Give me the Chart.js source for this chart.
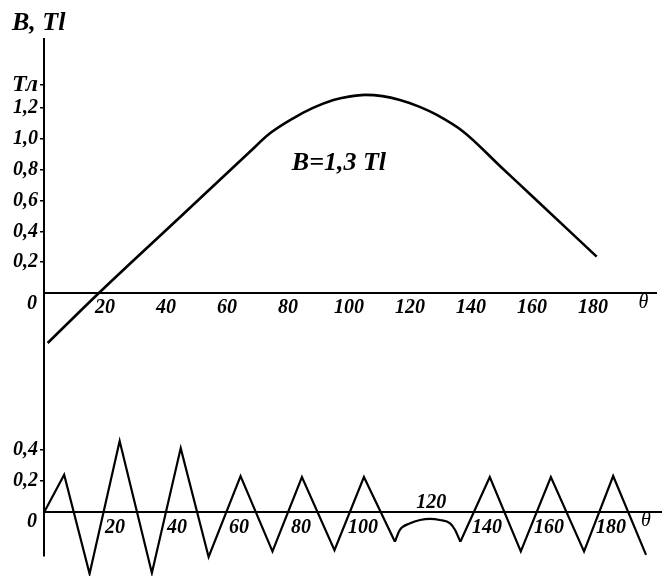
<!DOCTYPE html>
<html>
<head>
<meta charset="utf-8">
<script src="https://cdn.jsdelivr.net/npm/chart.js@4.4.1/dist/chart.umd.min.js"></script>
<style>
html,body{margin:0;padding:0;background:#fff;}
#wrap{position:relative;width:662px;height:576px;overflow:hidden;background:#fff;}
#c1{position:absolute;left:0;top:0;}
#c2{position:absolute;left:0;top:420px;}
</style>
</head>
<body>
<div id="wrap">
<canvas id="c1" width="662" height="420"></canvas>
<canvas id="c2" width="662" height="156"></canvas>
</div>
<script>
// ---------- data ----------
// upper curve: B(θ), Tl
const upperTheta = [1.2, 18, 45, 67.5, 74, 81.7, 88, 94.9, 100, 105.2, 111, 116.7, 123, 128.8, 137.5, 150, 160, 181.2];
const upperB     = [-0.325, 0, 0.50, 0.917, 1.035, 1.134, 1.20, 1.253, 1.275, 1.286, 1.278, 1.253, 1.21, 1.156, 1.047, 0.815, 0.63, 0.236];

// lower curve: ripple, Tl
const lowerTheta = [-2.9, 3.6, 11.8, 21.5, 31.9, 41.2, 50.2, 60.5, 70.8, 80.3, 90.8, 100.3, 110.3, 120, 131.4, 140.9, 150.9, 160.6, 171.3, 180.7, 191.3];
const lowerB     = [0, 0.24, -0.39, 0.455, -0.385, 0.41, -0.283, 0.232, -0.248, 0.226, -0.24, 0.226, -0.186, null, -0.186, 0.226, -0.248, 0.226, -0.248, 0.232, -0.27];
// rounded part between the two dips near 120°
const arcTheta = [110.3, 111.9, 115.2, 118.4, 121.6, 124.8, 128.1, 129.7, 131.4];
const arcB     = [-0.186, -0.111, -0.069, -0.048, -0.041, -0.048, -0.069, -0.111, -0.186];

// ticks
const upperXTicks = [20, 40, 60, 80, 100, 120, 140, 160, 180];
const upperYTicks = [0.2, 0.4, 0.6, 0.8, 1.0, 1.2];
const upperUnitTick = 1.35;       // position of the "Тл" unit label
const lowerXTicks = [20, 40, 60, 80, 100, 140, 160, 180];
const lowerYTicks = [0.2, 0.4];

// ---------- styling ----------
const FAM = '"Liberation Serif", "Times New Roman", serif';
const tickFont = {family: FAM, size: 20, style: 'italic', weight: 'bold'};
const unitFont = {family: FAM, size: 24, style: 'italic', weight: 'bold'};
const tickFontCss = 'italic bold 20px ' + FAM;
const thetaFontCss = 'italic 20px ' + FAM;

function toPts(xs, ys) { return xs.map((x, i) => ({x: x, y: ys[i]})); }
function fmt(v) { return v.toFixed(1).replace('.', ','); }
function isUnit(v) { return Math.abs(v - upperUnitTick) < 1e-6; }

function textPlugin(items) {
  return {
    id: 'txt',
    afterDraw(chart) {
      const ctx = chart.ctx, xs = chart.scales.x, ys = chart.scales.y;
      ctx.save();
      ctx.fillStyle = '#000';
      for (const it of items) {
        ctx.font = it.font;
        ctx.textAlign = it.align || 'center';
        ctx.textBaseline = 'middle';
        ctx.fillText(it.text, xs.getPixelForValue(it.x) + (it.dx || 0), ys.getPixelForValue(it.y) + (it.dy || 0));
      }
      ctx.restore();
    }
  };
}

function yAxis(min, max, ticks, labelFn) {
  return {
    type: 'linear', position: 'left', min: min, max: max,
    afterBuildTicks: s => { s.ticks = ticks.map(v => ({value: v})); },
    afterFit: s => { s.width = 44; s.paddingTop = 0; s.paddingBottom = 0; },
    ticks: {
      font: c => (c.tick && isUnit(c.tick.value) ? unitFont : tickFont),
      color: '#000', padding: 2, autoSkip: false, callback: labelFn
    },
    grid: {display: true, drawOnChartArea: false, drawTicks: true, tickLength: 4, color: '#000', lineWidth: 1.5},
    border: {display: true, color: '#000', width: 2}
  };
}
function xAxis(min, max, ticks) {
  return {
    type: 'linear', min: min, max: max, position: {y: 0},
    afterBuildTicks: s => { s.ticks = ticks.map(v => ({value: v})); },
    ticks: {font: tickFont, color: '#000', padding: 3, autoSkip: false, maxRotation: 0, callback: v => String(v)},
    grid: {display: false, drawTicks: false},
    border: {display: true, color: '#000', width: 2}
  };
}

// ---------- upper chart ----------
const upperYAll = upperYTicks.concat([upperUnitTick]);
new Chart(document.getElementById('c1'), {
  type: 'line',
  data: {
    datasets: [{
      data: toPts(upperTheta, upperB),
      borderColor: '#000', borderWidth: 2.6, pointRadius: 0,
      cubicInterpolationMode: 'monotone', fill: false
    }]
  },
  options: {
    responsive: false, animation: false, devicePixelRatio: 1,
    layout: {padding: {top: 39, bottom: 0, left: 0, right: 6}},
    plugins: {legend: {display: false}, tooltip: {enabled: false}},
    scales: {
      x: xAxis(0, 200.66, upperXTicks),
      y: yAxis(-0.8247, 1.649, upperYAll, v => (isUnit(v) ? 'Тл' : fmt(v)))
    }
  },
  plugins: [textPlugin([
    {text: 'B, Tl', x: 0, y: 1.649, dx: -32, dy: -16, align: 'left', font: 'italic bold 26px ' + FAM},
    {text: '0', x: 0, y: 0, dx: -7, dy: 11, align: 'right', font: tickFontCss},
    {text: 'θ', x: 196.5, y: 0, dy: 10, font: thetaFontCss},
    {text: 'B=1,3 Tl', x: 96.7, y: 0.84, font: 'italic bold 26px ' + FAM}
  ])]
});

// ---------- lower chart ----------
new Chart(document.getElementById('c2'), {
  type: 'line',
  data: {
    datasets: [{
      data: toPts(lowerTheta, lowerB),
      borderColor: '#000', borderWidth: 2.2, pointRadius: 0, tension: 0,
      spanGaps: false, clip: false, fill: false
    }, {
      data: toPts(arcTheta, arcB),
      borderColor: '#000', borderWidth: 2.2, pointRadius: 0,
      cubicInterpolationMode: 'monotone', clip: false, fill: false
    }]
  },
  options: {
    responsive: false, animation: false, devicePixelRatio: 1,
    layout: {padding: {top: 0, bottom: 20, left: 0, right: 0}},
    plugins: {legend: {display: false}, tooltip: {enabled: false}},
    scales: {
      x: xAxis(-2.903, 196.45, lowerXTicks),
      y: yAxis(-0.277, 0.589, lowerYTicks, v => fmt(v))
    }
  },
  plugins: [textPlugin([
    {text: '0', x: -2.903, y: 0, dx: -7, dy: 9, align: 'right', font: tickFontCss},
    {text: 'θ', x: 191.3, y: 0, dy: 8.5, font: thetaFontCss},
    {text: '120', x: 122, y: 0.06, font: tickFontCss}
  ])]
});
</script>
</body>
</html>
